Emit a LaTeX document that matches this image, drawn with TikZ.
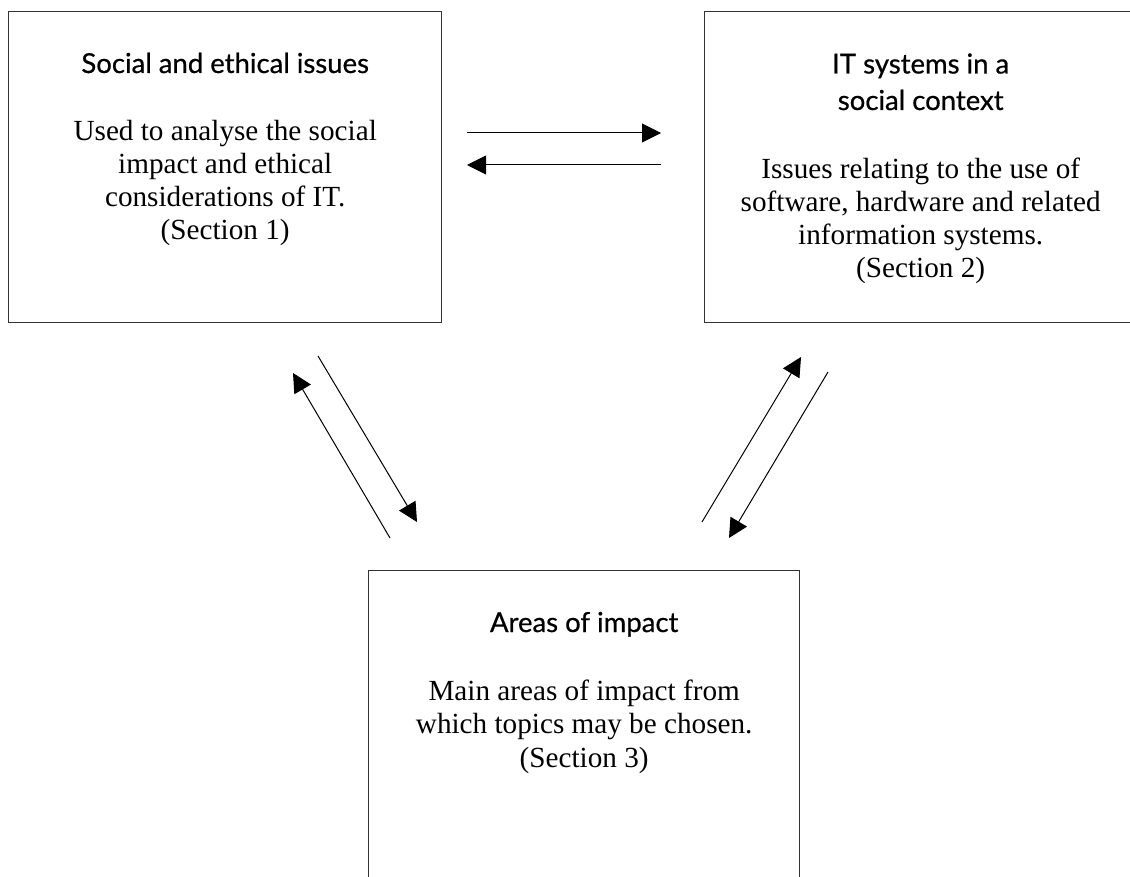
\documentclass[tikz,border=0pt]{standalone}
\usepackage{fontspec}
\setmainfont{Liberation Serif}
\newfontfamily\titlefont[FakeBold=0.6]{Lato}
\usetikzlibrary{arrows.meta,calc}
\tikzset{
  box/.style={draw=black!80, line width=1.4pt, fill=none, rectangle, inner sep=0pt},
  ttl/.style={font=\titlefont\fontsize{27.5}{36.5}\selectfont, align=center, anchor=base, inner sep=0pt},
  body/.style={font=\fontsize{29.2}{33.3}\selectfont, align=center, anchor=base, inner sep=0pt},
  arr/.style={line width=1pt, -{Triangle[length=19pt,width=19pt]}}
}
\begin{document}
\begin{tikzpicture}[x=1pt,y=-1pt]
\useasboundingbox (0,0) rectangle (1130,877);
% boxes
\node[box, minimum width=433pt, minimum height=311pt, anchor=north west] (b1) at (8,11) {};
\node[box, minimum width=432pt, minimum height=311pt, anchor=north west] (b2) at (704,11) {};
\node[box, minimum width=431pt, minimum height=340pt, anchor=north west] (b3) at (368,570) {};
% texts (base anchor = baseline of last line)
\node[ttl] (t1) at ($(b1.north)+(0,62)$) {Social and ethical issues};
\node[body] (d1) at ($(b1.north)+(0,229)$) {Used to analyse the social\\impact and ethical\\considerations of IT.\\(Section 1)};
\node[ttl] (t2) at ($(b2.north)+(0,99)$) {IT systems in a\\social context};
\node[body] (d2) at ($(b2.north)+(0,267)$) {Issues relating to the use of\\software, hardware and related\\information systems.\\(Section 2)};
\node[ttl] (t3) at ($(b3.north)+(0,62)$) {Areas of impact};
\node[body] (d3) at ($(b3.north)+(0,197)$) {Main areas of impact from\\which topics may be chosen.\\(Section 3)};
% arrow end points
\coordinate (h1s) at (467,133); \coordinate (h1e) at (661,133);
\coordinate (h2s) at (661,165); \coordinate (h2e) at (467,165);
\coordinate (l1s) at (390,538); \coordinate (l1e) at (293,373);
\coordinate (l2s) at (318,356); \coordinate (l2e) at (417,522);
\coordinate (r1s) at (702,522); \coordinate (r1e) at (801,357);
\coordinate (r2s) at (828,372); \coordinate (r2e) at (729,538);
\draw[arr] (h1s) -- (h1e);
\draw[arr] (h2s) -- (h2e);
\draw[arr] (l1s) -- (l1e);
\draw[arr] (l2s) -- (l2e);
\draw[arr] (r1s) -- (r1e);
\draw[arr] (r2s) -- (r2e);
\end{tikzpicture}
\end{document}
